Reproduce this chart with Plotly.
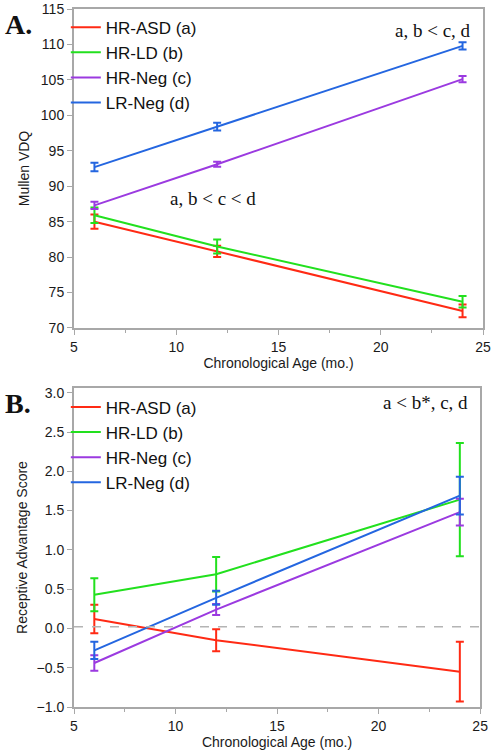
import plotly.graph_objects as go

ages = [6, 12, 24]
groups = ["HR-ASD (a)", "HR-LD (b)", "HR-Neg (c)", "LR-Neg (d)"]
colors = ["#ff2a14", "#22e01e", "#9b3ae0", "#2466e0"]

# Panel A: Mullen VDQ
vdq_mean = [
    [85.0, 80.8, 72.4],
    [85.9, 81.5, 73.7],
    [87.3, 93.1, 105.1],
    [92.7, 98.4, 109.8],
]
vdq_err = [
    [1.0, 0.8, 0.9],
    [1.1, 1.0, 0.8],
    [0.5, 0.35, 0.45],
    [0.6, 0.55, 0.5],
]

# Panel B: Receptive Advantage Score
ras_mean = [
    [0.12, -0.15, -0.55],
    [0.43, 0.69, 1.64],
    [-0.44, 0.24, 1.48],
    [-0.28, 0.39, 1.69],
]
ras_err = [
    [0.18, 0.14, 0.38],
    [0.21, 0.22, 0.72],
    [0.10, 0.07, 0.17],
    [0.11, 0.09, 0.24],
]

fig = go.Figure()
for i, g in enumerate(groups):
    fig.add_trace(go.Scatter(
        x=ages, y=vdq_mean[i], mode="lines", name=g,
        line=dict(color=colors[i], width=2),
        error_y=dict(type="data", array=vdq_err[i], color=colors[i], thickness=2, width=4),
        xaxis="x", yaxis="y", legend="legend",
    ))
for i, g in enumerate(groups):
    fig.add_trace(go.Scatter(
        x=ages, y=ras_mean[i], mode="lines", name=g,
        line=dict(color=colors[i], width=2),
        error_y=dict(type="data", array=ras_err[i], color=colors[i], thickness=2, width=4),
        xaxis="x2", yaxis="y2", legend="legend2",
    ))

sans = "Arial, Liberation Sans, sans-serif"
serif = "Liberation Serif, Times New Roman, serif"
axcol = "#a8a8a8"
tickfont = dict(family=sans, size=14, color="#1a1a1a")
titlefont = dict(family=sans, size=14, color="#1a1a1a")
common_x = dict(range=[5, 25], tickvals=[5, 10, 15, 20, 25], ticks="outside", ticklen=5,
                tickcolor=axcol, linecolor=axcol, linewidth=2, mirror=True, showgrid=False,
                zeroline=False, tickfont=tickfont, automargin=False, ticklabeloverflow="allow",
                minor=dict(tickvals=[7.5, 12.5, 17.5, 22.5], ticks="outside", ticklen=3, tickcolor=axcol),
                title=dict(text="Chronological Age (mo.)", font=titlefont, standoff=2))
common_y = dict(ticks="outside", ticklen=5, tickcolor=axcol, linecolor=axcol, linewidth=2,
                mirror=True, showgrid=False, zeroline=False, tickfont=tickfont, automargin=False,
                ticklabeloverflow="allow")

legfont = dict(family=sans, size=17, color="#111")
fig.update_layout(
    width=493, height=750,
    margin=dict(l=74, r=10, t=9, b=43),
    paper_bgcolor="white", plot_bgcolor="white",
    xaxis=dict(domain=[0, 1], anchor="y", **common_x),
    yaxis=dict(domain=[0.543, 1.0], anchor="x", range=[70, 115], dtick=5,
               title=dict(text="Mullen VDQ", font=titlefont, standoff=8),
               **common_y),
    xaxis2=dict(domain=[0, 0.993], anchor="y2", **common_x),
    yaxis2=dict(domain=[0, 0.457], anchor="x2", range=[-1.0, 3.06],
                tickvals=[-1, -0.5, 0, 0.5, 1, 1.5, 2, 2.5, 3], tickformat=".1f",
                title=dict(text="Receptive Advantage Score", font=titlefont, standoff=6),
                **common_y),
    legend=dict(x=-0.02, y=0.999, xanchor="left", yanchor="top", font=legfont,
                bgcolor="rgba(0,0,0,0)", tracegroupgap=0, itemwidth=30, traceorder="normal"),
    legend2=dict(x=-0.02, y=0.455, xanchor="left", yanchor="top", font=legfont,
                 bgcolor="rgba(0,0,0,0)", tracegroupgap=0, itemwidth=30, traceorder="normal"),
    annotations=[
        dict(text="<b>A.</b>", x=-0.174, y=0.9785, xref="paper", yref="paper", xanchor="left", yanchor="middle",
             showarrow=False, font=dict(family=serif, size=28, color="#111")),
        dict(text="<b>B.</b>", x=-0.174, y=0.4355, xref="paper", yref="paper", xanchor="left", yanchor="middle",
             showarrow=False, font=dict(family=serif, size=28, color="#111")),
        dict(text="a, b < c, d", x=24.5, y=112.0, xref="x", yref="y", xanchor="right", yanchor="middle",
             showarrow=False, font=dict(family=serif, size=19, color="#111")),
        dict(text="a, b < c < d", x=9.6, y=88.3, xref="x", yref="y", xanchor="left", yanchor="middle",
             showarrow=False, font=dict(family=serif, size=19, color="#111")),
        dict(text="a < b*, c, d", x=24.5, y=2.87, xref="x2", yref="y2", xanchor="right", yanchor="middle",
             showarrow=False, font=dict(family=serif, size=19, color="#111")),
    ],
    shapes=[
        dict(type="line", xref="x2 domain", yref="y2", x0=0, x1=1, y0=0.02, y1=0.02,
             line=dict(color="#b4b4b4", width=1.5, dash="dash")),
    ],
)

fig.write_html("out.html", config={"displayModeBar": False},
               post_script="document.body.style.margin='0';")
